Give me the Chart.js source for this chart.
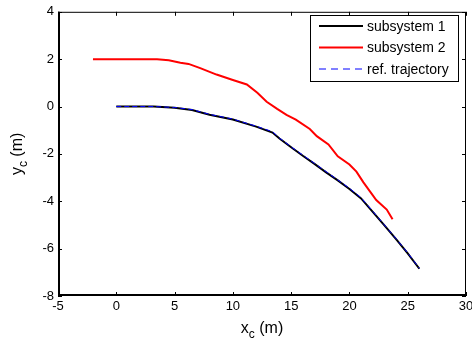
<!DOCTYPE html>
<html>
<head>
<meta charset="utf-8">
<script src="https://cdn.jsdelivr.net/npm/chart.js@4.4.0/dist/chart.umd.min.js"></script>
<style>
  html, body { margin: 0; padding: 0; background: #fff; }
  #wrap { width: 472px; height: 345px; }
</style>
</head>
<body>
<div id="wrap"><canvas id="trajChart" width="472" height="345"></canvas></div>
<script>
// subsystem 1 (black)
const sub1X = [0, 3.2, 5, 6.5, 8, 10, 12, 13.4, 14, 15, 16, 17, 18, 19, 20, 21, 22, 23, 24, 25, 26];
const sub1Y = [0, 0, -0.05, -0.15, -0.35, -0.55, -0.85, -1.1, -1.35, -1.72, -2.08, -2.42, -2.78, -3.12, -3.48, -3.88, -4.45, -5.02, -5.6, -6.2, -6.85];

// subsystem 2 (red)
const sub2X = [-2, 3.5, 4.5, 5.5, 6.2, 7.2, 8.6, 10, 11.2, 12.1, 12.9, 13.8, 14.6, 15.4, 16.6, 17.2, 18.2, 19, 20, 20.6, 21.2, 22.3, 23.2, 23.7];
const sub2Y = [2, 2, 1.95, 1.85, 1.8, 1.62, 1.35, 1.12, 0.93, 0.58, 0.2, -0.1, -0.35, -0.55, -0.95, -1.25, -1.6, -2.1, -2.45, -2.75, -3.2, -3.95, -4.35, -4.76];

// reference trajectory (blue dashed)
const refX = [0, 3.2, 5, 6.5, 8, 10, 12, 13.4, 14, 15, 16, 17, 18, 19, 20, 21, 22, 23, 24, 25, 26];
const refY = [0, 0, -0.04, -0.13, -0.33, -0.53, -0.83, -1.06, -1.33, -1.7, -2.05, -2.4, -2.75, -3.1, -3.45, -3.85, -4.42, -5.0, -5.58, -6.18, -6.83];

const xTicks = [-5, 0, 5, 10, 15, 20, 25, 30];
const yTicks = [-8, -6, -4, -2, 0, 2, 4];

const legendLabels = ['subsystem 1', 'subsystem 2', 'ref. trajectory'];

const toPoints = (xs, ys) => xs.map((x, i) => ({ x: x, y: ys[i] }));

const FONT = '"Liberation Sans", Arial, sans-serif';

// box, inward ticks, axis titles and legend, MATLAB style
const matlabAxes = {
    id: 'matlabAxes',
    afterDraw(chart) {
        const ctx = chart.ctx;
        const a = chart.chartArea;
        const xs = chart.scales.x;
        const ys = chart.scales.y;
        ctx.save();
        ctx.strokeStyle = '#000';
        ctx.lineWidth = 1;
        ctx.strokeRect(a.left + 0.5, a.top + 0.5, a.right - a.left - 1, a.bottom - a.top - 1);
        ctx.lineWidth = 2;
        ctx.beginPath();
        ctx.moveTo(a.left + 1, a.top);
        ctx.lineTo(a.left + 1, a.bottom - 1);
        ctx.lineTo(a.right, a.bottom - 1);
        ctx.stroke();
        ctx.lineWidth = 1;
        ctx.beginPath();
        xTicks.forEach(v => {
            const px = Math.round(xs.getPixelForValue(v)) + 0.5;
            ctx.moveTo(px, a.bottom); ctx.lineTo(px, a.bottom - 4);
            ctx.moveTo(px, a.top); ctx.lineTo(px, a.top + 4);
        });
        yTicks.forEach(v => {
            const py = Math.round(ys.getPixelForValue(v)) + 0.5;
            ctx.moveTo(a.left, py); ctx.lineTo(a.left + 4, py);
            ctx.moveTo(a.right, py); ctx.lineTo(a.right - 4, py);
        });
        ctx.stroke();

        // axis titles with subscript
        ctx.fillStyle = '#000';
        ctx.textBaseline = 'alphabetic';
        const drawTitle = (base) => {
            ctx.font = '16px ' + FONT;
            const w1 = ctx.measureText(base).width;
            ctx.font = '12px ' + FONT;
            const w2 = ctx.measureText('c').width;
            ctx.font = '16px ' + FONT;
            const w3 = ctx.measureText(' (m)').width;
            const total = w1 + w2 + w3;
            let x0 = -total / 2;
            ctx.fillText(base, x0, 0);
            ctx.font = '12px ' + FONT;
            ctx.fillText('c', x0 + w1, 5);
            ctx.font = '16px ' + FONT;
            ctx.fillText(' (m)', x0 + w1 + w2, 0);
        };
        ctx.save();
        ctx.translate((a.left + a.right) / 2, 333);
        drawTitle('x');
        ctx.restore();
        ctx.save();
        ctx.translate(22, (a.top + a.bottom) / 2);
        ctx.rotate(-Math.PI / 2);
        drawTitle('y');
        ctx.restore();

        // legend
        const lx = 310, ly = 15, lw = 148, lh = 66;
        ctx.fillStyle = '#fff';
        ctx.fillRect(lx, ly, lw, lh);
        ctx.strokeStyle = '#000';
        ctx.lineWidth = 1;
        ctx.strokeRect(lx + 0.5, ly + 0.5, lw, lh);
        const rows = [26, 47.5, 69];
        chart.data.datasets.forEach(ds => {
            const idx = ds.legendIndex;
            const ry = rows[idx];
            ctx.strokeStyle = ds.borderColor;
            ctx.lineWidth = ds.borderWidth;
            ctx.setLineDash(ds.borderDash ? [7, 5] : []);
            ctx.beginPath();
            ctx.moveTo(319, ry);
            ctx.lineTo(363, ry);
            ctx.stroke();
            ctx.setLineDash([]);
            ctx.fillStyle = '#000';
            ctx.font = '14px ' + FONT;
            ctx.textBaseline = 'middle';
            ctx.fillText(legendLabels[idx], 367, ry + 1);
        });
        ctx.restore();
    }
};

new Chart(document.getElementById('trajChart').getContext('2d'), {
    type: 'scatter',
    data: {
        datasets: [
            {
                label: legendLabels[2],
                legendIndex: 2,
                data: toPoints(refX, refY),
                showLine: true,
                borderColor: '#0000ff',
                borderWidth: 1,
                borderDash: [5, 3],
                pointRadius: 0,
                tension: 0,
                order: 1
            },
            {
                label: legendLabels[0],
                legendIndex: 0,
                data: toPoints(sub1X, sub1Y),
                showLine: true,
                borderColor: '#000000',
                borderWidth: 2,
                pointRadius: 0,
                tension: 0,
                order: 2
            },
            {
                label: legendLabels[1],
                legendIndex: 1,
                data: toPoints(sub2X, sub2Y),
                showLine: true,
                borderColor: '#ff0000',
                borderWidth: 2,
                pointRadius: 0,
                tension: 0,
                order: 3
            }
        ]
    },
    options: {
        responsive: false,
        animation: false,
        layout: { padding: { top: 8, right: 6, left: 0, bottom: 0 } },
        plugins: {
            legend: { display: false },
            tooltip: { enabled: false }
        },
        scales: {
            x: {
                type: 'linear',
                min: -5,
                max: 30,
                afterBuildTicks: s => { s.ticks = xTicks.map(v => ({ value: v })); },
                afterFit: s => { s.height = 49; s.paddingLeft = 0; s.paddingRight = 0; },
                grid: { display: false, drawTicks: false, tickLength: 0 },
                border: { display: false },
                ticks: {
                    color: '#000',
                    padding: 3,
                    maxRotation: 0,
                    font: { family: FONT, size: 13 }
                }
            },
            y: {
                type: 'linear',
                min: -8,
                max: 4,
                afterBuildTicks: s => { s.ticks = yTicks.map(v => ({ value: v })); },
                afterFit: s => { s.width = 58; },
                grid: { display: false, drawTicks: false, tickLength: 0 },
                border: { display: false },
                ticks: {
                    color: '#000',
                    padding: 4,
                    font: { family: FONT, size: 13 }
                }
            }
        }
    },
    plugins: [matlabAxes]
});
</script>
</body>
</html>
